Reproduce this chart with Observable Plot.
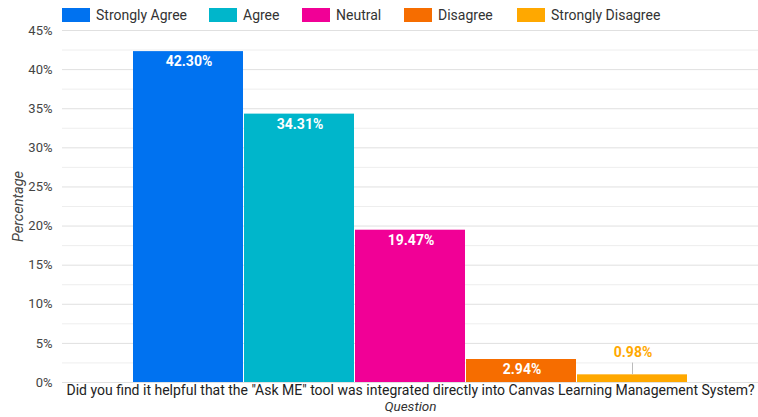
<!DOCTYPE html>
<html>
<head>
<meta charset="utf-8">
<script src="https://cdn.jsdelivr.net/npm/d3@7"></script>
<script src="https://cdn.jsdelivr.net/npm/@observablehq/plot@0.6"></script>
<style>
  body { margin: 0; background: #fff; font-family: Roboto, sans-serif; }
  #legend { height: 24px; position: relative; font-size: 14px; color: #333; }
  .item { position: absolute; top: 8px; display: flex; align-items: center; white-space: nowrap; }
  .sw { width: 28px; height: 14px; margin-right: 6px; }
  .item span { line-height: 14px; }
  svg [aria-label="y-axis label"] text, svg [aria-label="y-axis label"] { font-style: italic; font-size: 14.5px; }
</style>
</head>
<body>
<div id="legend"></div>
<div id="chart"></div>
<script>
const question = 'Did you find it helpful that the "Ask ME" tool was integrated directly into Canvas Learning Management System?';
const answers = ["Strongly Agree", "Agree", "Neutral", "Disagree", "Strongly Disagree"];
const values = [42.30, 34.31, 19.47, 2.94, 0.98];
const colors = ["#0072f0", "#00b6cb", "#f10096", "#f66d00", "#ffa800"];
const yTicks = [0, 5, 10, 15, 20, 25, 30, 35, 40, 45];
const yMinor = [2.5, 7.5, 12.5, 17.5, 22.5, 27.5, 32.5, 37.5, 42.5];

const data = answers.map((a, i) => ({question, answer: a, value: values[i], label: values[i].toFixed(2) + "%"}));
const inside = data.filter(d => d.value > 2);
const outside = data.filter(d => d.value <= 2);

// legend
const legendX = [62, 209, 302, 404, 517];
const leg = document.getElementById("legend");
answers.forEach((a, i) => {
  const it = document.createElement("div");
  it.className = "item";
  it.style.left = legendX[i] + "px";
  it.innerHTML = `<div class="sw" style="background:${colors[i]}"></div><span>${a}</span>`;
  leg.appendChild(it);
});

const plot = Plot.plot({
  width: 758,
  height: 393,
  marginTop: 6,
  marginLeft: 62,
  marginRight: 0,
  marginBottom: 35,
  style: {fontFamily: "Roboto, sans-serif", fontSize: "13px", color: "#444"},
  fx: {domain: [question], padding: 0, label: null},
  x: {domain: answers, paddingInner: 0, paddingOuter: 0.618, axis: null},
  y: {domain: [0, 45], label: null},
  color: {domain: answers, range: colors},
  marks: [
    Plot.gridY(yMinor, {stroke: "#eeeeee", strokeOpacity: 1}),
    Plot.gridY(yTicks, {stroke: "#e0e0e0", strokeOpacity: 1}),
    Plot.axisY({ticks: yTicks, tickFormat: d => d + "%", tickSize: 0, tickPadding: 10, label: "Percentage", labelArrow: "none", labelAnchor: "center", labelOffset: 50, fill: "#444"}),
    Plot.axisFx({anchor: "bottom", tickSize: 0, tickPadding: 3, label: null, fill: "#222", fontSize: 14}),
    Plot.text(["Question"], {frameAnchor: "bottom", dy: 28, fontStyle: "italic", fill: "#333", fontSize: 13.5}),
    Plot.barY(data, {fx: "question", x: "answer", y: "value", fill: "answer", insetRight: 1}),
    Plot.text(inside, {fx: "question", x: "answer", y: "value", text: "label", dy: 10, fill: "white", fontWeight: "bold", fontSize: 14}),
    Plot.ruleX(outside, {fx: "question", x: "answer", y1: "value", y2: d => d.value + 1.5, stroke: "#bbb", dx: -0.5}),
    Plot.text(outside, {fx: "question", x: "answer", y: "value", text: "label", dy: -22, fill: d => colors[answers.indexOf(d.answer)], fontWeight: "bold", fontSize: 14})
  ]
});
// strip any label arrow left by the axis
d3.select(plot).selectAll('[aria-label="y-axis label"] text').each(function() {
  this.textContent = this.textContent.replace(/[↑→←↓]\s*|\s*[↑→←↓]/g, "");
});
document.getElementById("chart").appendChild(plot);
</script>
</body>
</html>
